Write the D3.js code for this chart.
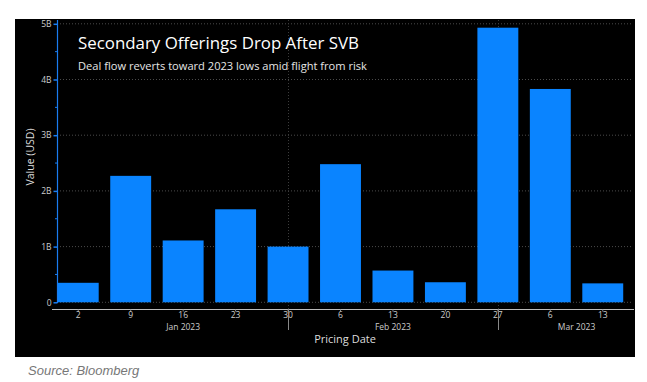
<!DOCTYPE html>
<html><head><meta charset="utf-8">
<script src="https://cdn.jsdelivr.net/npm/d3@7"></script>
<style>
html,body{margin:0;padding:0;background:#fff;}
svg{display:block;}
</style></head>
<body>
<script>
// ---- data ----
const dayLabels = ["2","9","16","23","30","6","13","20","27","6","13"];
const values = [0.35, 2.27, 1.11, 1.67, 1.0, 2.48, 0.57, 0.36, 4.93, 3.83, 0.34]; // billions USD
const monthLabels = ["Jan 2023","Feb 2023","Mar 2023"];
const monthLabelPos = [2, 6, 9.5];      // category index each month label centres on
const monthBreaks = [4, 8];              // category index of long separator ticks
const yTicks = [0,1,2,3,4,5];
const yTickLabels = ["0","1B","2B","3B","4B","5B"];
const titleText = "Secondary Offerings Drop After SVB";
const subtitleText = "Deal flow reverts toward 2023 lows amid flight from risk";
const sourceText = "Source: Bloomberg";

const W = 647, H = 382;
const svg = d3.select("body").append("svg").attr("width", W).attr("height", H);

// panel
svg.append("rect").attr("x",15).attr("y",19).attr("width",620).attr("height",338).attr("fill","#000");

const x = d3.scaleBand().domain(d3.range(values.length)).range([57, 624]).paddingInner(0.22).paddingOuter(0.015);
const y = d3.scaleLinear().domain([0,5]).range([302.3, 23.8]);
const cx = i => x(i) + x.bandwidth()/2;

const font = "'Open Sans', 'DejaVu Sans', sans-serif";

// horizontal gridlines
svg.append("g").selectAll("line").data(yTicks).join("line")
  .attr("x1",57).attr("x2",632)
  .attr("y1",d=>y(d)).attr("y2",d=>y(d))
  .attr("stroke","#4a4a4a").attr("stroke-width",1).attr("stroke-dasharray","1,2");

// vertical gridlines at month breaks
svg.append("g").selectAll("line").data(monthBreaks).join("line")
  .attr("x1",d=>Math.round(cx(d))+0.5).attr("x2",d=>Math.round(cx(d))+0.5)
  .attr("y1",20).attr("y2",309)
  .attr("stroke","#3c3c3c").attr("stroke-dasharray","1,2");

// bars
svg.append("g").selectAll("rect").data(values).join("rect")
  .attr("x",(d,i)=>x(i)).attr("width",x.bandwidth())
  .attr("y",d=>y(d)).attr("height",d=>y(0)-y(d))
  .attr("fill","#0a84ff");

// y axis
const yAxis = d3.axisLeft(y).tickValues(yTicks).tickFormat((d,i)=>yTickLabels[i]).tickSize(4).tickPadding(2);
const yg = svg.append("g").attr("transform","translate(57.5,0)").call(yAxis);
yg.select(".domain").attr("stroke","#1a7cf0").attr("stroke-width",1.2).attr("d","M0,20V303");
yg.selectAll(".tick line").attr("stroke","#1a7cf0").attr("stroke-width",1.5);
yg.selectAll(".tick text").attr("fill","#ccc").attr("font-family",font).attr("font-size",8.5);
// minor ticks
const minor = d3.range(0.5,5,1);
yg.selectAll(".minor").data(minor).join("line").attr("class","minor")
  .attr("x1",-2.5).attr("x2",0).attr("y1",d=>y(d)).attr("y2",d=>y(d))
  .attr("stroke","#1a7cf0");

// x axis
const xAxis = d3.axisBottom(x).tickFormat(i=>dayLabels[i]).tickSize(2).tickPadding(0);
const xg = svg.append("g").attr("transform","translate(0,309.5)").call(xAxis);
xg.select(".domain").attr("stroke","#bbb").attr("d","M52,0H634");
xg.selectAll(".tick line").attr("stroke","#888");
xg.selectAll(".tick text").attr("fill","#ccc").attr("font-family",font).attr("font-size",8.5);
// long month separators
svg.append("g").selectAll("line").data(monthBreaks).join("line")
  .attr("x1",d=>Math.round(cx(d))+0.5).attr("x2",d=>Math.round(cx(d))+0.5)
  .attr("y1",309).attr("y2",330).attr("stroke","#888");
// month labels
svg.append("g").selectAll("text").data(monthLabels).join("text")
  .attr("x",(d,i)=>{const p=monthLabelPos[i]; const a=Math.floor(p), b=Math.ceil(p); return (cx(a)+cx(b))/2;})
  .attr("y",330).attr("text-anchor","middle")
  .attr("fill","#ccc").attr("font-family",font).attr("font-size",8.5).text(d=>d);

// axis titles
svg.append("text").attr("x",345).attr("y",343).attr("text-anchor","middle")
  .attr("fill","#ddd").attr("font-family",font).attr("font-size",11).text("Pricing Date");
svg.append("text").attr("transform","translate(34,157) rotate(-90)").attr("text-anchor","middle")
  .attr("fill","#ddd").attr("font-family",font).attr("font-size",10.5).text("Value (USD)");

// title / subtitle fitted to measured widths
function fitText(sel, target){
  const w = sel.node().getComputedTextLength();
  const fs = parseFloat(sel.attr("font-size"));
  sel.attr("font-size", fs*target/w);
}
const t = svg.append("text").attr("x",78).attr("y",49).attr("fill","#fff")
  .attr("font-family",font).attr("font-size",18).text(titleText);
fitText(t, 281);
const st = svg.append("text").attr("x",78).attr("y",70).attr("fill","#e6e6e6")
  .attr("font-family",font).attr("font-size",12).text(subtitleText);
fitText(st, 289);

// source
svg.append("text").attr("x",28).attr("y",375).attr("fill","#777")
  .attr("font-family","'Liberation Sans', Arial, sans-serif").attr("font-style","italic")
  .attr("font-size",13).text(sourceText);
</script>
</body></html>
